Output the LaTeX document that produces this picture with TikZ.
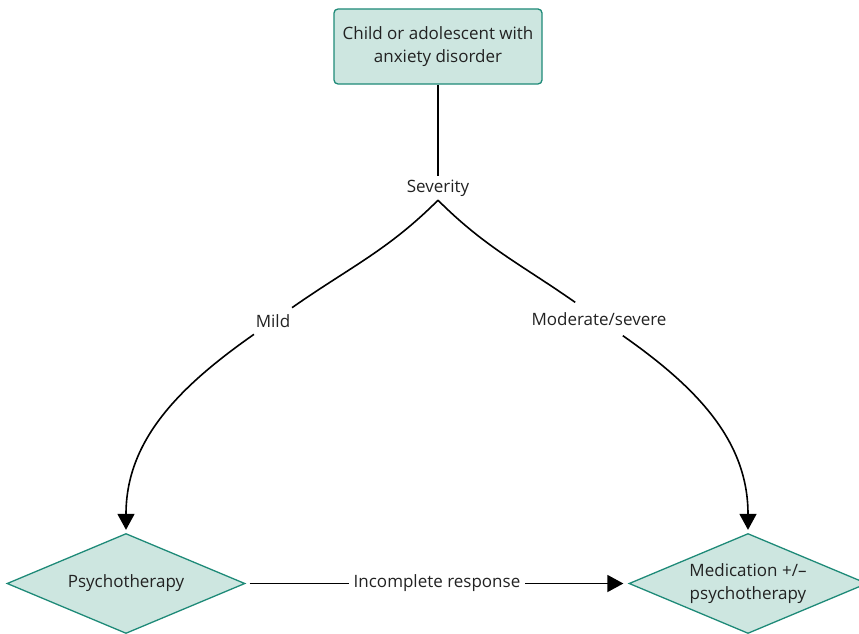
\documentclass[tikz,border=0pt]{standalone}
\usepackage{fontspec}
\setmainfont{Open Sans}
\usetikzlibrary{shapes.geometric,arrows.meta}
\definecolor{boxfill}{HTML}{CDE6E0}
\definecolor{boxline}{HTML}{1E8A78}
\definecolor{txt}{HTML}{222222}
\begin{document}
\begin{tikzpicture}[x=1pt,y=-1pt,
  every node/.style={text=txt,font=\fontsize{17}{23}\selectfont},
  startbox/.style={draw=boxline,fill=boxfill,line width=1.3pt,rounded corners=4pt,
    minimum width=208pt,minimum height=75pt,align=center,inner sep=0pt},
  choice/.style={diamond,aspect=2.4,draw=boxline,fill=boxfill,line width=1.3pt,
    minimum width=238pt,minimum height=100pt,align=center,inner sep=0pt},
  lbl/.style={fill=white,inner sep=5pt},
  link/.style={line width=1.6pt,draw=black},
  arr/.style={link,-{Triangle[width=17pt,length=16pt]}}]
  \useasboundingbox (0,0) rectangle (859,634);
  \clip (0,0) rectangle (859,634);

  % boxes
  \node[startbox] (child) at (438,46.5) {Child or adolescent with\\anxiety disorder};
  \node[choice] (psy) at (126,583.5) {Psychotherapy};
  \node[choice] (med) at (748,583.5) {Medication +/–\\psychotherapy};

  % branch labels
  \node[inner sep=0pt,minimum height=24pt] (sev) at (438,188) {Severity};
  \node[ellipse,inner sep=1pt,minimum width=60pt,minimum height=34pt] (mild) at (273,321) {Mild};
  \node[ellipse,inner sep=1pt,minimum width=142pt,minimum height=34pt] (mod) at (599,319) {Moderate/severe};

  % connectors
  \draw[link] (child.south) -- (sev.north);
  \draw[link] (sev.south) to[out=-135,in=35] (mild);
  \draw[arr,shorten >=3pt] (mild) to[out=-145,in=90] (psy.north);
  \draw[link] (sev.south) to[out=-45,in=145] (mod);
  \draw[arr,shorten >=3pt] (mod) to[out=-35,in=90] (med.north);
  \draw[arr,shorten <=4pt,shorten >=5pt] (psy.east) -- node[lbl] (inc) {Incomplete response} (med.west);
\end{tikzpicture}
\end{document}
